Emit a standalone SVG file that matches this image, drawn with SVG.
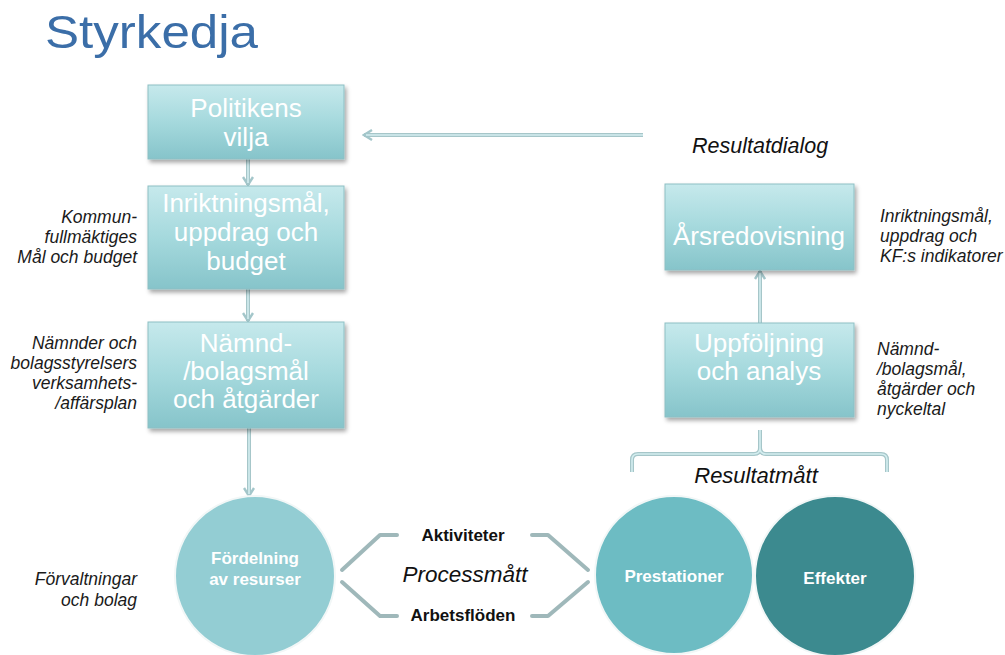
<svg xmlns="http://www.w3.org/2000/svg" width="1005" height="655" viewBox="0 0 1005 655">
<defs>
<linearGradient id="boxg" x1="0" y1="0" x2="0" y2="1">
<stop offset="0" stop-color="#c6e9ec"/>
<stop offset="0.5" stop-color="#a5d9dd"/>
<stop offset="1" stop-color="#86c4ca"/>
</linearGradient>
<filter id="sh" x="-10%" y="-10%" width="125%" height="130%">
<feDropShadow dx="2" dy="3" stdDeviation="2" flood-color="#000" flood-opacity="0.35"/>
</filter>
<marker id="ah" viewBox="0 0 12 12" refX="10" refY="6" markerWidth="12" markerHeight="12" markerUnits="userSpaceOnUse" orient="auto">
<path d="M2,1 L10,6 L2,11" fill="none" stroke="#a3c6ca" stroke-width="2.4"/>
</marker>
</defs>
<style>
.box{fill:url(#boxg);stroke:#8dbfc4;stroke-width:1;filter:url(#sh);}
.bt{font-family:"Liberation Sans",Arial,sans-serif;font-size:26px;fill:#ffffff;text-anchor:middle;}
.ann{font-family:"Liberation Sans",Arial,sans-serif;font-size:17.5px;font-style:italic;fill:#1a1a1a;}
.annr{text-anchor:end;}
.lbl{font-family:"Liberation Sans",Arial,sans-serif;font-style:italic;fill:#111;}
.ct{font-family:"Liberation Sans",Arial,sans-serif;font-weight:bold;font-size:17px;fill:#ffffff;text-anchor:middle;}
.pt{font-family:"Liberation Sans",Arial,sans-serif;font-weight:bold;font-size:17px;fill:#111;text-anchor:middle;}
.conn{fill:none;stroke:#a6c6c9;stroke-width:4;}
.inner{fill:none;stroke:#d4eef0;stroke-width:1.6;}
.brk{fill:none;stroke:#9fb8ba;stroke-width:4;stroke-linecap:round;stroke-linejoin:round;}
.circ{stroke:#f2f7f7;stroke-width:2;}
</style>

<text x="45" y="48" font-family="Liberation Sans,Arial,sans-serif" font-size="47" fill="#3b6ea8" textLength="213" lengthAdjust="spacingAndGlyphs">Styrkedja</text>

<g id="connectors">
<line class="conn" x1="248" y1="159" x2="248" y2="185" marker-end="url(#ah)"/>
<line class="inner" x1="248" y1="159" x2="248" y2="183"/>
<line class="conn" x1="248" y1="289" x2="248" y2="321" marker-end="url(#ah)"/>
<line class="inner" x1="248" y1="289" x2="248" y2="319"/>
<line class="conn" x1="249" y1="428" x2="249" y2="496" marker-end="url(#ah)"/>
<line class="inner" x1="249" y1="428" x2="249" y2="494"/>
<line class="conn" x1="760" y1="323" x2="760" y2="271" marker-end="url(#ah)"/>
<line class="inner" x1="760" y1="323" x2="760" y2="273"/>
<line class="conn" x1="643" y1="135" x2="364" y2="135" marker-end="url(#ah)"/>
<line class="inner" x1="643" y1="135" x2="366" y2="135"/>
<path class="conn" d="M632,472 L632,460 Q632,454 638,454 L754,454 Q760,454 760,448 L760,430 M760,448 Q760,454 766,454 L881,454 Q887,454 887,460 L887,472"/>
<path class="inner" d="M632,472 L632,460 Q632,454 638,454 L754,454 Q760,454 760,448 L760,430 M760,448 Q760,454 766,454 L881,454 Q887,454 887,460 L887,472"/>
<path class="brk" d="M397,535 L380,535 L342,570 M342,582 L380,616 L397,616"/>
<path class="brk" d="M532,535 L548,535 L588,570 M588,582 L548,616 L532,616"/>
</g>

<g id="politikens">
<rect class="box" x="148" y="85" width="196" height="74"/>
<text class="bt" x="246" y="117">Politikens</text>
<text class="bt" x="246" y="146">vilja</text>
</g>
<g id="inriktning">
<rect class="box" x="148" y="186" width="196" height="103"/>
<text class="bt" x="246" y="212">Inriktningsmål,</text>
<text class="bt" x="246" y="241">uppdrag och</text>
<text class="bt" x="246" y="270">budget</text>
</g>
<g id="namnd">
<rect class="box" x="148" y="322" width="196" height="106"/>
<text class="bt" x="246" y="352">Nämnd-</text>
<text class="bt" x="246" y="380">/bolagsmål</text>
<text class="bt" x="246" y="408">och åtgärder</text>
</g>
<g id="arsredovisning">
<rect class="box" x="665" y="184" width="189" height="86"/>
<text class="bt" x="759" y="245">Årsredovisning</text>
</g>
<g id="uppfoljning">
<rect class="box" x="665" y="323" width="189" height="94"/>
<text class="bt" x="759" y="352">Uppföljning</text>
<text class="bt" x="759" y="380">och analys</text>
</g>

<g id="fordelning">
<circle class="circ" cx="255" cy="576" r="80" fill="#93cdd3"/>
<text class="ct" x="255" y="564">Fördelning</text>
<text class="ct" x="255" y="585">av resurser</text>
</g>
<g id="prestationer">
<circle class="circ" cx="674" cy="575" r="79" fill="#6dbcc3"/>
<text class="ct" x="674" y="582">Prestationer</text>
</g>
<g id="effekter">
<circle class="circ" cx="835" cy="576" r="80" fill="#3c8a8f"/>
<text class="ct" x="835" y="584">Effekter</text>
</g>

<g id="labels">
<text class="lbl" x="692" y="153" font-size="21.5">Resultatdialog</text>
<text class="lbl" x="756" y="483" font-size="22" text-anchor="middle">Resultatmått</text>
<text class="lbl" x="465" y="582" font-size="22.5" text-anchor="middle">Processmått</text>
<text class="pt" x="463" y="541">Aktiviteter</text>
<text class="pt" x="463" y="621">Arbetsflöden</text>
</g>

<g id="annotations">
<text class="ann annr" x="137" y="223">Kommun-</text>
<text class="ann annr" x="137" y="243">fullmäktiges</text>
<text class="ann annr" x="137" y="263">Mål och budget</text>
<text class="ann annr" x="137" y="349">Nämnder och</text>
<text class="ann annr" x="137" y="369">bolagsstyrelsers</text>
<text class="ann annr" x="137" y="389">verksamhets-</text>
<text class="ann annr" x="137" y="409">/affärsplan</text>
<text class="ann annr" x="137" y="585">Förvaltningar</text>
<text class="ann annr" x="137" y="606">och bolag</text>
<text class="ann" x="880" y="222">Inriktningsmål,</text>
<text class="ann" x="880" y="242">uppdrag och</text>
<text class="ann" x="880" y="262">KF:s indikatorer</text>
<text class="ann" x="877" y="355">Nämnd-</text>
<text class="ann" x="877" y="375">/bolagsmål,</text>
<text class="ann" x="877" y="395">åtgärder och</text>
<text class="ann" x="877" y="415">nyckeltal</text>
</g>
</svg>
